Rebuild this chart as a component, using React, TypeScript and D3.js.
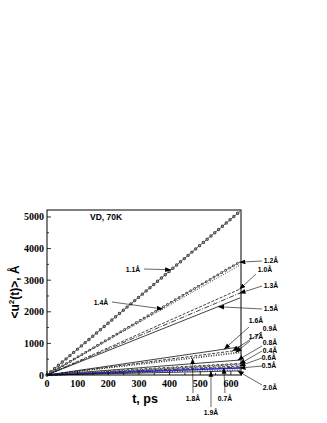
import React from 'react';
import * as d3 from 'd3';

// straight MSD lines, value of <u^2(t)> at the last time (t = 630 ps)
const tEnd = 630;
const seriesNames = ['1.1Å', '1.2Å', '1.4Å', '1.0Å', '1.3Å', '1.5Å', '1.6Å', '0.9Å', '1.7Å', '1.8Å', '0.8Å', '0.4Å', '0.6Å', '0.7Å', '0.5Å', '1.9Å', '2.0Å'];
const endValues = [5180, 3580, 3480, 2720, 2595, 2440, 890, 790, 730, 700, 475, 350, 285, 250, 220, 160, 130];
const lineStyles = ['rings', 'smallRings', 'dot', 'dash', 'dashdot', 'solid', 'solid', 'dash', 'dot', 'dot', 'solid', 'smallRings', 'dash', 'dashdot', 'blue', 'dot', 'solid'];

const yTicks = [0, 1000, 2000, 3000, 4000, 5000];
const xTicks = [0, 100, 200, 300, 400, 500, 600];

// label text, label position [x, y] in px, arrow start [x, y] in px, arrow tip time on the line
const labelNames = ['1.1Å', '1.4Å', '1.2Å', '1.0Å', '1.3Å', '1.5Å', '1.6Å', '0.9Å', '1.7Å', '0.8Å', '0.4Å', '0.6Å', '0.5Å', '2.0Å', '1.8Å', '1.9Å', '0.7Å'];
const labelPos = [[133, 272], [101, 305], [271, 263], [265, 272], [271, 288], [271, 311], [256, 323], [270, 331], [256, 339], [270, 345], [270, 352.5], [269, 360], [269, 367.5], [270, 390], [193, 401], [211, 415], [225, 401]];
const arrowFrom = [[144, 269], [112, 302], [262, 261], [256, 274], [262, 286], [262, 309], [249, 327], [262, 332], [250, 341], [262, 346], [262, 351], [262, 358], [262, 366], [262, 385], [193, 393], [211, 407], [225, 393]];
const arrowTipT = [405, 378, 628, 628, 628, 558, 578, 605, 615, 622, 628, 628, 628, 622, 475, 535, 577];

const W = 327;
const H = 423;

const App = () => {
  const x = d3.scaleLinear().domain([0, 633]).range([47, 241]);
  const y = d3.scaleLinear().domain([0, 5220]).range([375, 210]);
  const line = d3.line<[number, number]>().x(d => x(d[0])).y(d => y(d[1]));

  const pathFor = (i: number) => line([[0, 0], [tEnd, endValues[i]]]) as string;

  const drawLine = (i: number) => {
    const s = lineStyles[i];
    const d = pathFor(i);
    const k = seriesNames[i];
    if (s === 'rings') {
      return (
        <g key={k}>
          <path d={d} stroke="#333" strokeWidth={0.8} fill="none" />
          <path d={d} stroke="#444" strokeWidth={3.4} strokeDasharray="0 5" strokeLinecap="round" fill="none" />
          <path d={d} stroke="#aaa" strokeWidth={1.4} strokeDasharray="0 5" strokeLinecap="round" fill="none" />
        </g>
      );
    }
    if (s === 'smallRings') {
      return (
        <g key={k}>
          <path d={d} stroke="#333" strokeWidth={0.6} fill="none" />
          <path d={d} stroke="#333" strokeWidth={2.6} strokeDasharray="0 4.5" strokeLinecap="round" fill="none" />
          <path d={d} stroke="#fff" strokeWidth={1.1} strokeDasharray="0 4.5" strokeLinecap="round" fill="none" />
        </g>
      );
    }
    const dash = s === 'dash' ? '3 1.5' : s === 'dashdot' ? '5 1.5 1 1.5' : s === 'dot' ? '1 1.5' : undefined;
    return (
      <path key={k} d={d} fill="none" stroke={s === 'blue' ? '#2b2bd0' : '#111'}
        strokeWidth={s === 'blue' ? 1.6 : 0.8} strokeDasharray={dash} />
    );
  };

  const sansBold = { fontFamily: 'Liberation Sans, Arial, sans-serif', fontWeight: 'bold' as const };
  const serifBold = { fontFamily: 'Liberation Serif, Times New Roman, serif', fontWeight: 'bold' as const };

  return (
    <svg width={W} height={H} style={{ position: 'absolute', left: 0, top: 0, background: '#fff' }}>
      <defs>
        <marker id="ah" viewBox="0 0 10 10" refX="10" refY="5" markerWidth="6" markerHeight="6" orient="auto" markerUnits="userSpaceOnUse">
          <path d="M0,1 L10,5 L0,9 Z" fill="#000" />
        </marker>
      </defs>

      {/* lines */}
      {seriesNames.map((_, i) => drawLine(i))}

      {/* frame */}
      <rect x={x(0)} y={y(5220)} width={x(633) - x(0)} height={y(0) - y(5220)} fill="none" stroke="#000" strokeWidth={1} />

      {/* y ticks */}
      {d3.range(0, 5001, 500).map(v => (
        <line key={'yt' + v} x1={x(0)} x2={x(0) + (v % 1000 === 0 ? 4 : 2)} y1={y(v)} y2={y(v)} stroke="#000" strokeWidth={0.8} />
      ))}
      {yTicks.map(v => (
        <text key={'yl' + v} x={x(0) - 3} y={y(v) + 3.5} textAnchor="end" fontSize={10} {...serifBold}>{v}</text>
      ))}

      {/* x ticks */}
      {d3.range(0, 601, 50).map(v => (
        <line key={'xt' + v} x1={x(v)} x2={x(v)} y1={y(0)} y2={y(0) - (v % 100 === 0 ? 4 : 2)} stroke="#000" strokeWidth={0.8} />
      ))}
      {xTicks.map(v => (
        <text key={'xl' + v} x={x(v)} y={387} textAnchor="middle" fontSize={10} {...serifBold}>{v}</text>
      ))}

      {/* axis titles */}
      <text x={145} y={403} textAnchor="middle" fontSize={12.5} {...sansBold}>t, ps</text>
      <text transform="translate(19,292) rotate(-90)" textAnchor="middle" fontSize={12} {...sansBold}>
        {'<u'}<tspan dy={-5} fontSize={8}>2</tspan><tspan dy={5}>{'(t)>, Å'}</tspan>
      </text>

      <text x={90} y={220} fontSize={8.5} {...sansBold}>VD, 70K</text>

      {/* labels with arrows */}
      {labelNames.map((name, i) => {
        const si = seriesNames.indexOf(name);
        const tt = arrowTipT[i];
        const tip: [number, number] = [x(tt), y(endValues[si] * tt / tEnd)];
        const [fx, fy] = arrowFrom[i];
        const [lx, ly] = labelPos[i];
        return (
          <g key={'lab' + name}>
            <line x1={fx} y1={fy} x2={tip[0]} y2={tip[1]} stroke="#000" strokeWidth={0.6} markerEnd="url(#ah)" />
            <text x={lx} y={ly} textAnchor="middle" fontSize={6.8} {...sansBold}>{name}</text>
          </g>
        );
      })}
    </svg>
  );
};

export default App;
